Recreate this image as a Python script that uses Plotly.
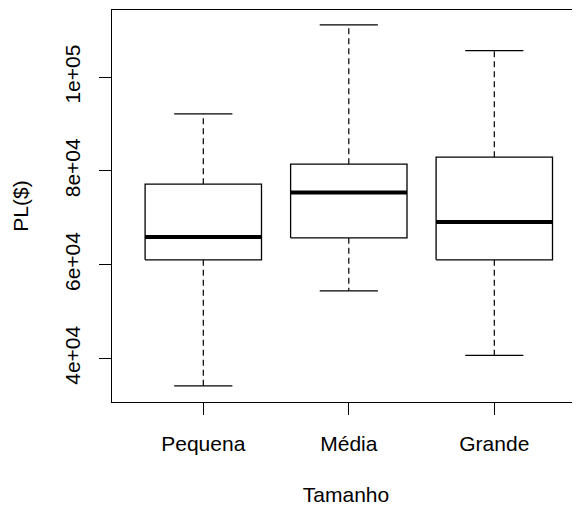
import plotly.graph_objects as go

categories = ["Pequena", "Média", "Grande"]
positions = [1, 2, 3]
lower_whisker = [34120, 54430, 40640]
q1_values = [61040, 65730, 61040]
medians = [65880, 75390, 69080]
q3_values = [77180, 81450, 82940]
upper_whisker = [92170, 111150, 105670]

y_tick_values = [40000, 60000, 80000, 100000]
y_tick_labels = ["4e+04", "6e+04", "8e+04", "1e+05"]

box_half = 0.4
cap_half = 0.2
ink = "#000000"

fig = go.Figure()
for x, lo, q1, md, q3, hi in zip(positions, lower_whisker, q1_values, medians, q3_values, upper_whisker):
    # dashed whiskers
    fig.add_trace(go.Scatter(x=[x, x, None, x, x], y=[q3, hi, None, q1, lo], mode="lines",
                             line=dict(color=ink, width=1.2, dash="6px,4px"),
                             hoverinfo="skip", showlegend=False))
    # caps
    fig.add_trace(go.Scatter(x=[x - cap_half, x + cap_half, None, x - cap_half, x + cap_half],
                             y=[hi, hi, None, lo, lo], mode="lines",
                             line=dict(color=ink, width=1.2), hoverinfo="skip", showlegend=False))
    # box
    fig.add_trace(go.Scatter(x=[x - box_half, x + box_half, x + box_half, x - box_half, x - box_half],
                             y=[q1, q1, q3, q3, q1], mode="lines", fill="toself",
                             fillcolor="white", line=dict(color=ink, width=1.3),
                             hoverinfo="skip", showlegend=False))
    # median
    fig.add_trace(go.Scatter(x=[x - box_half, x + box_half], y=[md, md], mode="lines",
                             line=dict(color=ink, width=4), hoverinfo="skip", showlegend=False))

font = dict(family="Liberation Sans, Arial, sans-serif", size=21, color="#000000")

# page body has an 8px default margin; the figure is sized/offset to compensate
fig.update_layout(
    width=572, height=498,
    margin=dict(l=104, r=0, t=2, b=104),
    paper_bgcolor="white", plot_bgcolor="white",
    font=font,
    xaxis=dict(range=[0.3725, 3.589], tickvals=positions, ticktext=categories,
               ticks="outside", ticklen=12, tickwidth=1.2, tickcolor=ink,
               showline=True, linecolor=ink, linewidth=1.2, mirror=True,
               showgrid=False, zeroline=False, ticklabelstandoff=11,
               title=dict(text="Tamanho", standoff=33, font=font)),
    yaxis=dict(range=[30700, 114340], tickvals=y_tick_values, ticktext=y_tick_labels,
               tickangle=-90, ticks="outside", ticklen=12, tickwidth=1.2, tickcolor=ink,
               showline=True, linecolor=ink, linewidth=1.2, mirror=False,
               showgrid=False, zeroline=False, ticklabelstandoff=11,
               title=dict(text="PL($)", standoff=26, font=font)),
)

fig.write_html("out.html")
